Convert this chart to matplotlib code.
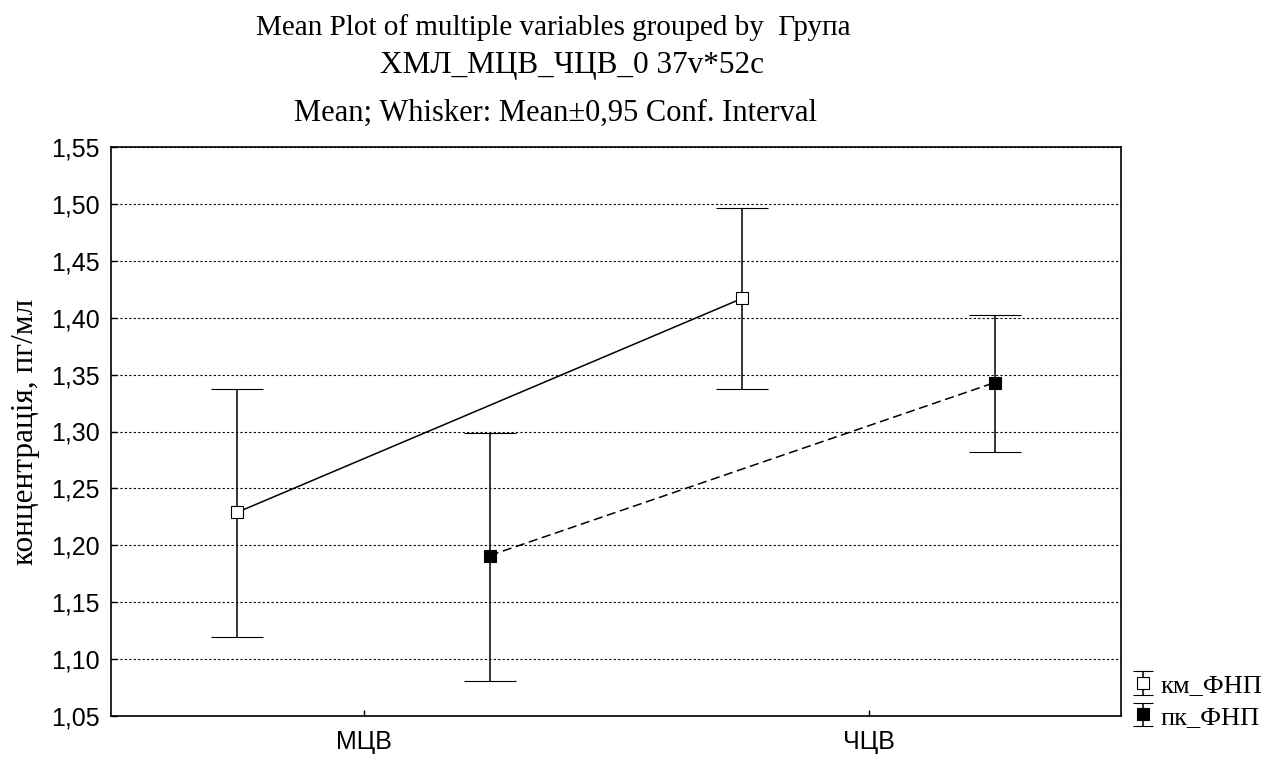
import numpy as np
import matplotlib.pyplot as plt
from matplotlib.ticker import FuncFormatter, MultipleLocator
from matplotlib.legend_handler import HandlerErrorbar

# данні
categories = ["МЦВ", "ЧЦВ"]
series_names = ["км_ФНП", "пк_ФНП"]
km_mean = [1.229, 1.417]
km_low = [1.119, 1.337]
km_high = [1.337, 1.496]
pk_mean = [1.191, 1.343]
pk_low = [1.081, 1.282]
pk_high = [1.299, 1.402]

serif = ["Liberation Serif", "DejaVu Serif"]
sans = ["Liberation Sans", "DejaVu Sans"]


class SmallCapHandler(HandlerErrorbar):
    # у легенді - короткі вуса
    def create_artists(self, *args, **kwargs):
        arts = super().create_artists(*args, **kwargs)
        for a in arts:
            if hasattr(a, "get_marker") and a.get_marker() == "_":
                a.set_markersize(14)
        return arts


fig = plt.figure(figsize=(12.71, 7.6), dpi=100)
ax = fig.add_axes([111 / 1271, 1 - 716 / 760, 1010 / 1271, 569 / 760])

x = np.arange(len(categories))
off = 0.25


def draw(xpos, mean, lo, hi, ls, face, label):
    mean = np.array(mean)
    yerr = [mean - np.array(lo), np.array(hi) - mean]
    ax.plot(xpos, mean, color="black", ls=ls, lw=1.1, zorder=2)
    ax.errorbar(xpos, mean, yerr=yerr, fmt="s", ms=8, mfc=face, mec="black",
                mew=0.8, ecolor="black", elinewidth=1.1, capsize=18.5,
                capthick=1.1, color="black", label=label, zorder=3)


draw(x - off, km_mean, km_low, km_high, "-", "white", series_names[0])
draw(x + off, pk_mean, pk_low, pk_high, (0, (6, 3)), "black", series_names[1])

ax.set_xlim(-0.5, 1.5)
ax.set_ylim(1.05, 1.55)
ax.set_xticks(x)
ax.set_xticklabels(categories, fontfamily=sans, fontsize=18)
ax.yaxis.set_major_locator(MultipleLocator(0.05))
ax.yaxis.set_major_formatter(FuncFormatter(lambda v, p: f"{v:.2f}".replace(".", ",")))
for t in ax.get_yticklabels():
    t.set_fontfamily(sans)
    t.set_fontsize(18)
ax.tick_params(axis="both", direction="in", length=4, width=1, pad=8, colors="black")
ax.tick_params(axis="x", pad=10)
ax.grid(axis="y", color="black", ls=(0, (2, 2)), lw=0.8)
for s in ax.spines.values():
    s.set_linewidth(1.2)

ax.set_ylabel("концентрація, пг/мл", fontfamily=serif, fontsize=22.5, labelpad=8)

tx = 560 / 1271
fig.text(553 / 1271, 1 - 28 / 760, "Mean Plot of multiple variables grouped by  Група",
         ha="center", va="center", fontfamily=serif, fontsize=21)
fig.text(572 / 1271, 1 - 65 / 760, "ХМЛ_МЦВ_ЧЦВ_0 37v*52c",
         ha="center", va="center", fontfamily=serif, fontsize=22.5)
fig.text(555 / 1271, 1 - 113 / 760, "Mean; Whisker: Mean±0,95 Conf. Interval",
         ha="center", va="center", fontfamily=serif, fontsize=22)

leg = ax.legend(loc="lower left", bbox_to_anchor=(0.997, -0.05), frameon=False,
                prop={"family": serif, "size": 19}, handlelength=0.7,
                handletextpad=0.3, labelspacing=0.3, borderpad=0.1,
                handler_map={type(ax.containers[0]): SmallCapHandler(yerr_size=0.45)})

plt.savefig("out.png", dpi=100)
